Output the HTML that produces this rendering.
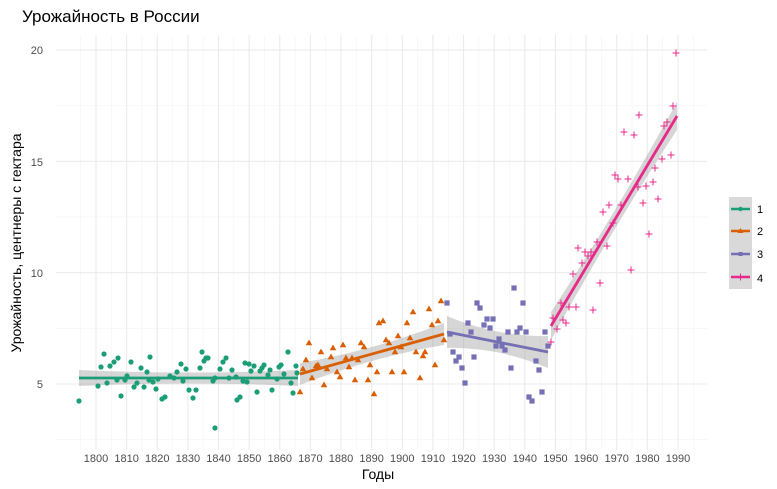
<!DOCTYPE html>
<html><head><meta charset="utf-8"><style>
body{margin:0;background:#fff}
svg{display:block;font-family:"Liberation Sans",sans-serif}
</style></head><body>
<svg id="s" width="777" height="489" viewBox="0 0 777 489" xmlns="http://www.w3.org/2000/svg">
<rect width="777" height="489" fill="#fff"/>
<g id="grid"></g>
<g id="bands"></g>
<g id="pts"></g>
<g id="lines"></g>
<text x="22" y="22" font-size="17" fill="#000">Урожайность в России</text>
<text x="378" y="479" font-size="14" text-anchor="middle" fill="#000">Годы</text>
<text transform="translate(21,243) rotate(-90)" font-size="14" text-anchor="middle" fill="#000">Урожайность, центнеры с гектара</text>
<g font-size="11" fill="#4d4d4d" text-anchor="end">
<text x="43" y="54">20</text><text x="43" y="166">15</text><text x="43" y="277">10</text><text x="43" y="388">5</text>
</g>
<g id="xt" font-size="11" fill="#4d4d4d" text-anchor="middle"></g>
<rect x="729" y="197" width="23" height="92" fill="#d9d9d9"/>
<g id="leg"></g>
<g font-size="11" fill="#000">
<text x="757" y="213">1</text><text x="757" y="235">2</text><text x="757" y="258">3</text><text x="757" y="282">4</text>
</g>
</svg>
<script>
const NS="http://www.w3.org/2000/svg";
function el(p,t,a){const e=document.createElementNS(NS,t);for(const k in a)e.setAttribute(k,a[k]);document.getElementById(p).appendChild(e);return e;}
const X=y=>96+(y-1800)*3.063, Y=v=>384-(v-5)*22.27;
for(let y=1795;y<=1995;y+=10) el('grid','line',{x1:X(y),x2:X(y),y1:35,y2:450,stroke:'#f3f3f3','stroke-width':0.6});
for(let y=1800;y<=1990;y+=10){el('grid','line',{x1:X(y),x2:X(y),y1:35,y2:450,stroke:'#ebebeb','stroke-width':1.1});
 el('xt','text',{x:X(y),y:462}).textContent=y;}
for(let v=2.5;v<=20;v+=5) el('grid','line',{x1:56,x2:707,y1:Y(v),y2:Y(v),stroke:'#f3f3f3','stroke-width':0.6});
for(let v=5;v<=20;v+=5) el('grid','line',{x1:56,x2:707,y1:Y(v),y2:Y(v),stroke:'#ebebeb','stroke-width':1.1});
const C=['#1b9e77','#d95f02','#7570b3','#e7298a'];
function band(x1,y1,x2,y2,w1,wm,w2){const xm=(x1+x2)/2,ym=(y1+y2)/2;
 el('bands','path',{d:`M${x1},${y1-w1} Q${xm},${ym-wm*0.6} ${x2},${y2-w2} L${x2},${y2+w2} Q${xm},${ym+wm*0.6} ${x1},${y1+w1}Z`,fill:'#999',opacity:0.4});}
band(79,378,298,378,8,5,8);band(300,374,444,334,11,5,11);band(447,332,548,352,16,8,16);band(551,326,677,116,14,8,14);
const g1=[[79,401],[98,386],[101,367],[104,354],[107,383],[110,366],[114,362],[117,380],[118,358],[121,396],[125,380],[127,376],[131,362],[134,387],[137,383],[141,368],[144,387],[147,372],[150,357],[149,380],[153,382],[156,389],[158,379],[162,399],[165,397],[170,376],[174,378],[177,372],[181,364],[183,381],[186,369],[189,390],[193,398],[196,390],[200,368],[202,352],[204,361],[206,358],[208,358],[213,381],[215,378],[220,369],[223,362],[226,358],[229,378],[232,370],[236,377],[237,400],[240,397],[243,381],[245,363],[247,382],[249,364],[251,371],[254,366],[257,392],[260,371],[262,368],[264,365],[268,375],[270,370],[272,390],[277,379],[279,367],[281,365],[284,374],[288,352],[291,383],[293,393],[296,366],[297,373],[215,428]];
const g2=[[309,343],[306,360],[303,369],[300,392],[312,378],[316,366],[318,365],[321,352],[324,385],[327,369],[331,357],[333,348],[337,372],[340,377],[343,345],[346,358],[349,367],[352,358],[355,380],[358,360],[361,343],[364,347],[368,380],[370,365],[374,394],[377,372],[379,323],[383,321],[386,340],[389,343],[392,372],[395,352],[398,336],[401,347],[404,372],[407,323],[410,338],[413,312],[416,352],[420,378],[423,356],[425,352],[429,309],[432,325],[435,365],[438,321],[441,301],[444,340]];
const g3=[[447,303],[450,334],[453,352],[456,361],[459,357],[462,368],[465,383],[468,323],[471,332],[474,357],[477,303],[480,308],[484,325],[487,319],[490,328],[493,319],[496,346],[499,339],[502,346],[505,350],[508,332],[511,368],[514,288],[517,332],[520,328],[523,303],[526,332],[529,397],[532,401],[536,361],[539,370],[542,392],[545,332],[548,346]];
const g4=[[551,342],[557,329],[553,318],[563,320],[566,323],[561,303],[569,307],[576,307],[593,310],[573,274],[582,263],[578,248],[585,252],[588,256],[591,252],[597,242],[600,283],[607,246],[613,223],[603,212],[609,205],[621,205],[615,175],[618,179],[628,179],[631,270],[638,187],[643,203],[646,186],[653,182],[658,199],[649,234],[655,168],[662,159],[671,155],[624,132],[634,135],[639,115],[664,126],[667,122],[673,106],[676,53]];
g1.forEach(([x,y])=>el('pts','circle',{cx:x,cy:y,r:2.6,fill:C[0]}));
g2.forEach(([x,y])=>el('pts','path',{d:`M${x},${y-3.5}L${x+3.3},${y+2.3}L${x-3.3},${y+2.3}Z`,fill:C[1]}));
g3.forEach(([x,y])=>el('pts','rect',{x:x-2.6,y:y-2.6,width:5.2,height:5.2,fill:C[2]}));
g4.forEach(([x,y])=>{el('pts','path',{d:`M${x-3.5},${y}H${x+3.5}M${x},${y-3.5}V${y+3.5}`,stroke:C[3],'stroke-width':1});});
const L=[[79,378,298,378],[300,374,444,334],[447,332,548,352],[551,326,677,116]];
L.forEach((l,i)=>el('lines','line',{x1:l[0],y1:l[1],x2:l[2],y2:l[3],stroke:C[i],'stroke-width':2.8}));
[209,231,254,277].forEach((y,i)=>{el('leg','line',{x1:731,x2:750,y1:y,y2:y,stroke:C[i],'stroke-width':2.5});
 if(i==0)el('leg','circle',{cx:740.5,cy:y,r:2.2,fill:C[0]});
 if(i==1)el('leg','path',{d:`M740.5,${y-3}L743.5,${y+2}L737.5,${y+2}Z`,fill:C[1]});
 if(i==2)el('leg','rect',{x:738.5,y:y-2,width:4,height:4,fill:C[2]});
 if(i==3)el('leg','path',{d:`M740.5,${y-3.5}V${y+3.5}`,stroke:C[3],'stroke-width':1});});
</script>
</body></html>
